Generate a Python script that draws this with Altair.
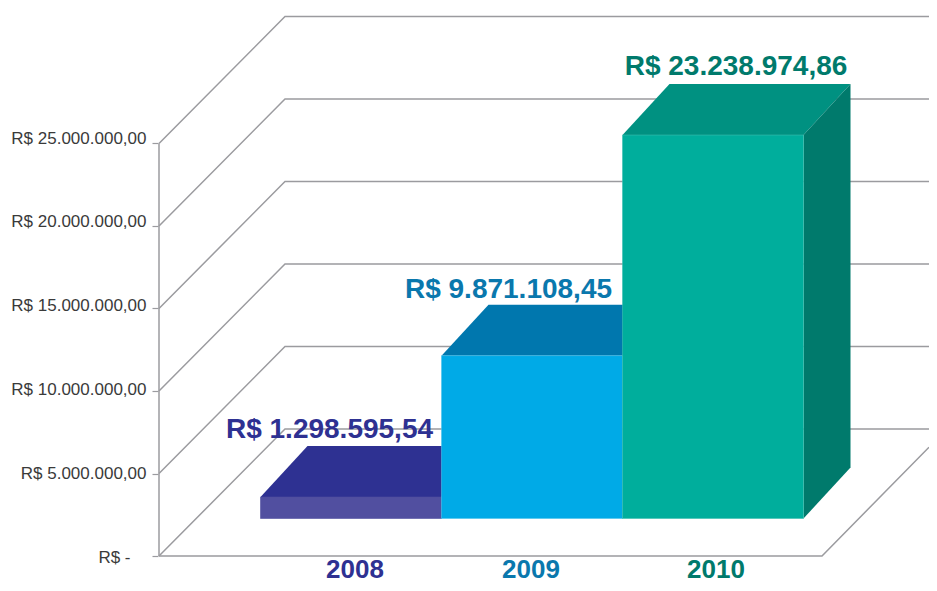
import altair as alt
import pandas as pd

# ---- values
years = ["2008", "2009", "2010"]
values = [1298595.54, 9871108.45, 23238974.86]
value_labels = ["R$ 1.298.595,54", "R$ 9.871.108,45", "R$ 23.238.974,86"]
tick_values = [0, 5000000, 10000000, 15000000, 20000000, 25000000]

# ---- styles
front_cols = ["#514fa0", "#00aae7", "#00ae9c"]
edge_cols = ["#514fa0", "#4cc3ed", "#3cc0b0"]
top_cols = ["#2e3192", "#0077ae", "#009181"]
side_cols = ["#2e3192", "#0077ae", "#007a6c"]
text_cols = ["#2e3192", "#0a78ad", "#007a6c"]
grid_col = "#9b9b9f"
FONT = "Liberation Sans"

# ---- pseudo-3D geometry (pixels per value unit and depth offsets)
PX_PER_UNIT = 16.5 / 1e6
ZERO_PX = 556.0
TOP_PX, BOTTOM_PX = 8.0, 583.0
LEFT_PX, RIGHT_PX = 158.0, 929.0
px = lambda n: n / PX_PER_UNIT          # a pixel distance in value units

WALL_X0, WALL_DX, WALL_DY = 159.0, 126.0, 127.0
FLOOR_X1 = 822.0
SLOT = 181.0
BAR_X0 = 260.5
BAR_BASE = px(ZERO_PX - 518.5)
BAR_DX, BAR_DY = 47.0, 51.0
label_cx = [329.5, 508.5, 736.0]
label_gap = [8.0, 7.0, 9.0]
year_cx = [355.0, 531.0, 716.0]
year_y = px(ZERO_PX - 577.5)

x_scale = alt.Scale(domain=[LEFT_PX, RIGHT_PX], nice=False, zero=False)
y_scale = alt.Scale(domain=[px(ZERO_PX - BOTTOM_PX), px(ZERO_PX - TOP_PX)], nice=False, zero=False)
tick_axis = alt.Axis(orient="left", values=tick_values, labels=False, title=None, domain=False, grid=False,
                     ticks=True, tickSize=6, tickColor=grid_col, tickWidth=1.2)

# ---- walls and floor
rows = []
for i, t in enumerate(tick_values):
    rows += [
        {"id": i, "o": 0, "x": WALL_X0, "y": t},
        {"id": i, "o": 1, "x": WALL_X0 + WALL_DX, "y": t + px(WALL_DY)},
        {"id": i, "o": 2, "x": RIGHT_PX, "y": t + px(WALL_DY)},
    ]
rows += [
    {"id": 10, "o": 0, "x": WALL_X0, "y": tick_values[0]},
    {"id": 10, "o": 1, "x": WALL_X0, "y": tick_values[-1]},
    {"id": 11, "o": 0, "x": WALL_X0, "y": tick_values[0]},
    {"id": 11, "o": 1, "x": FLOOR_X1, "y": tick_values[0]},
    {"id": 11, "o": 2, "x": RIGHT_PX, "y": px((RIGHT_PX - FLOOR_X1) * 1.017)},
]
grid = (
    alt.Chart(pd.DataFrame(rows))
    .mark_line(color=grid_col, strokeWidth=1.5)
    .encode(
        x=alt.X("x:Q", scale=x_scale, axis=None),
        y=alt.Y("y:Q", scale=y_scale, axis=tick_axis),
        detail="id:N",
        order="o:Q",
    )
)

# ---- axis labels on a scale of their own, as in the picture they drift off the ticks
LABEL_PX_PER_UNIT = 16.76 / 1e6
LABEL_ZERO_PX = 557.0
label_scale = alt.Scale(
    domain=[(LABEL_ZERO_PX - BOTTOM_PX) / LABEL_PX_PER_UNIT, (LABEL_ZERO_PX - TOP_PX) / LABEL_PX_PER_UNIT],
    nice=False, zero=False,
)
label_expr = (
    "datum.value === 0 ? 'R$ -' : "
    "'R$ ' + replace(format(datum.value, ',.0f'), /,/g, '.') + ',00'"
)
axis_labels = (
    alt.Chart(pd.DataFrame({"v": tick_values}))
    .mark_point(opacity=0)
    .encode(
        x=alt.X("xp:Q", scale=x_scale, axis=None),
        y=alt.Y(
            "v:Q", scale=label_scale,
            axis=alt.Axis(orient="left", values=tick_values, labelExpr=label_expr, title=None, domain=False,
                          grid=False, ticks=False, labelPadding=alt.expr("datum.value === 0 ? 28 : 12"),
                          labelFont=FONT, labelFontSize=17,
                          labelColor="#3a3a3a", labelBaseline="middle", labelOverlap=False,
                          labelBound=False, labelFlush=False),
        ),
    )
    .transform_calculate(xp=str(LEFT_PX))
)

# ---- bars
bar_layers = []
text_rows = []
for i, (yr, v) in enumerate(zip(years, values)):
    x0 = BAR_X0 + i * SLOT
    x1 = x0 + SLOT
    t = BAR_BASE + v
    b = BAR_BASE
    d = px(BAR_DY)
    top = pd.DataFrame({
        "x": [x0, x0 + BAR_DX, x1, x1 + BAR_DX],
        "y": [t, t + d, t + d, t + d],
        "y2": [t, t, t, t + d],
    })
    side = pd.DataFrame({"x": [x1, x1 + BAR_DX], "y": [t, t + d], "y2": [b, b + d]})
    front = pd.DataFrame({"x": [x0], "x2": [x1], "y": [t], "y2": [b]})
    for frame, col in ((top, top_cols[i]), (side, side_cols[i])):
        bar_layers.append(
            alt.Chart(frame).mark_area(color=col, orient="vertical", interpolate="linear").encode(
                x=alt.X("x:Q", scale=x_scale, axis=None),
                y=alt.Y("y:Q", scale=y_scale, axis=tick_axis),
                y2="y2:Q",
            )
        )
    bar_layers.append(
        alt.Chart(front).mark_rect(color=front_cols[i], stroke=edge_cols[i], strokeWidth=0.6).encode(
            x=alt.X("x:Q", scale=x_scale, axis=None),
            x2="x2:Q",
            y=alt.Y("y:Q", scale=y_scale, axis=tick_axis),
            y2="y2:Q",
        )
    )
    text_rows.append({
        "cx": label_cx[i], "vy": t + d + px(label_gap[i]), "label": value_labels[i],
        "yx": year_cx[i], "year": yr, "yy": year_y, "col": text_cols[i],
    })

text_df = pd.DataFrame(text_rows)
value_text = (
    alt.Chart(text_df)
    .mark_text(font=FONT, fontWeight="bold", fontSize=28, baseline="alphabetic", align="center")
    .encode(
        x=alt.X("cx:Q", scale=x_scale, axis=None),
        y=alt.Y("vy:Q", scale=y_scale, axis=tick_axis),
        text="label:N",
        color=alt.Color("col:N", scale=None),
    )
)
year_text = (
    alt.Chart(text_df)
    .mark_text(font=FONT, fontWeight="bold", fontSize=26, baseline="alphabetic", align="center")
    .encode(
        x=alt.X("yx:Q", scale=x_scale, axis=None),
        y=alt.Y("yy:Q", scale=y_scale, axis=tick_axis),
        text="year:N",
        color=alt.Color("col:N", scale=None),
    )
)

main = alt.layer(grid, *bar_layers, value_text, year_text)
chart = (
    alt.layer(main, axis_labels)
    .resolve_scale(y="independent")
    .properties(
        width=RIGHT_PX - LEFT_PX,
        height=BOTTOM_PX - TOP_PX,
        padding={"left": 150, "top": 0, "right": 0, "bottom": 0},
        autosize=alt.AutoSizeParams(type="none"),
        background="#ffffff",
    )
    .configure_view(stroke=None)
)
chart.save("out.html", embed_options={"renderer": "svg", "actions": False})
